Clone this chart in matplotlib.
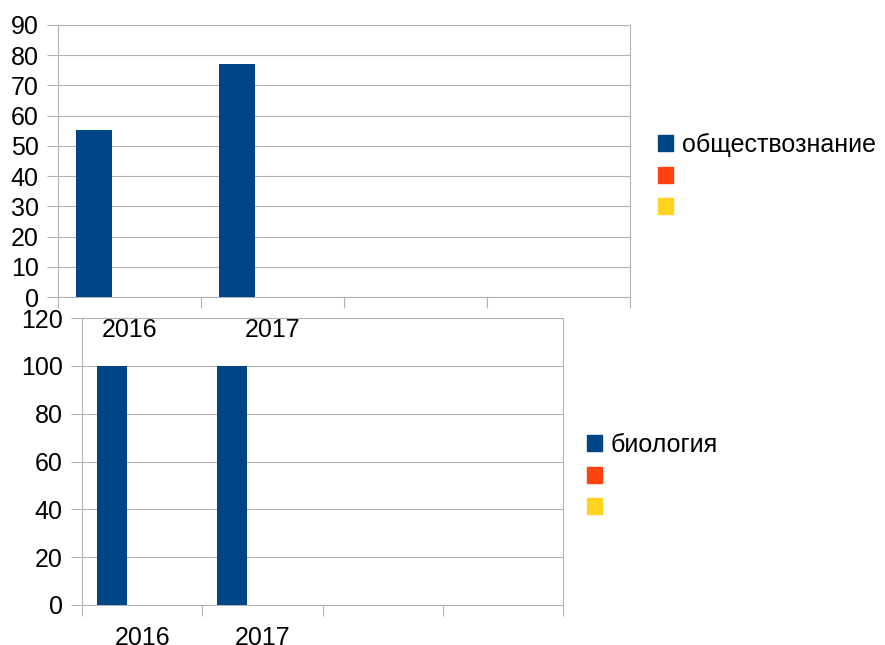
import numpy as np
import matplotlib.pyplot as plt
from matplotlib.patches import Patch

plt.rcParams['font.family'] = ['Liberation Sans', 'DejaVu Sans']

categories = ['2016', '2017', '', '']
colors = ['#004586', '#ff420e', '#ffd320']

# top chart
top_names = ['обществознание', '', '']
top_s1 = [55.3, 77, np.nan, np.nan]
top_s2 = [np.nan, np.nan, np.nan, np.nan]
top_s3 = [np.nan, np.nan, np.nan, np.nan]
top_ticks = np.arange(0, 91, 10)

# bottom chart
bot_names = ['биология', '', '']
bot_s1 = [100, 100, np.nan, np.nan]
bot_s2 = [np.nan, np.nan, np.nan, np.nan]
bot_s3 = [np.nan, np.nan, np.nan, np.nan]
bot_ticks = np.arange(0, 121, 20)

W, H = 885, 645
GRID = '#b3b3b3'
FS = 18


def chart(rect, series, names, yticks, leg_xy):
    l, t, r, b = rect
    ax = fig.add_axes([l / W, 1 - b / H, (r - l) / W, (b - t) / H])
    ax.patch.set_alpha(0)
    x = np.arange(len(categories))
    for i, s in enumerate(series):
        ax.bar(x + (i - 1) * 0.25, s, 0.25, color=colors[i], zorder=3)
    ax.set_xlim(-0.5, len(categories) - 0.5)
    ax.set_ylim(yticks[0], yticks[-1])
    ax.set_yticks(yticks)
    ax.set_xticks(np.arange(len(categories) + 1) - 0.5)
    ax.set_xticklabels([])
    ax.set_xticks(x, categories, minor=True)
    ax.tick_params(axis='x', which='minor', length=0, pad=15, labelsize=FS)
    ax.tick_params(axis='x', which='major', length=8, color=GRID, width=0.8)
    ax.tick_params(axis='y', length=8, color=GRID, width=0.8, pad=6, labelsize=FS)
    ax.grid(axis='y', color=GRID, lw=0.8, zorder=0)
    for sp in ax.spines.values():
        sp.set_color(GRID)
        sp.set_linewidth(0.8)
    handles = [Patch(color=c) for c in colors]
    fig.legend(handles, [n if n else ' ' for n in names], loc='upper left',
               bbox_to_anchor=(leg_xy[0] / W, 1 - leg_xy[1] / H), frameon=False,
               fontsize=FS, handlelength=0.6, handleheight=0.6, handletextpad=0.35,
               labelspacing=0.3, borderpad=0, borderaxespad=0)
    return ax


fig = plt.figure(figsize=(W / 100, H / 100), dpi=100)
chart((58, 25, 630, 297), [top_s1, top_s2, top_s3], top_names, top_ticks, (658, 133))
chart((82, 318, 563, 605), [bot_s1, bot_s2, bot_s3], bot_names, bot_ticks, (587, 433))
fig.savefig('out.png', dpi=100)
